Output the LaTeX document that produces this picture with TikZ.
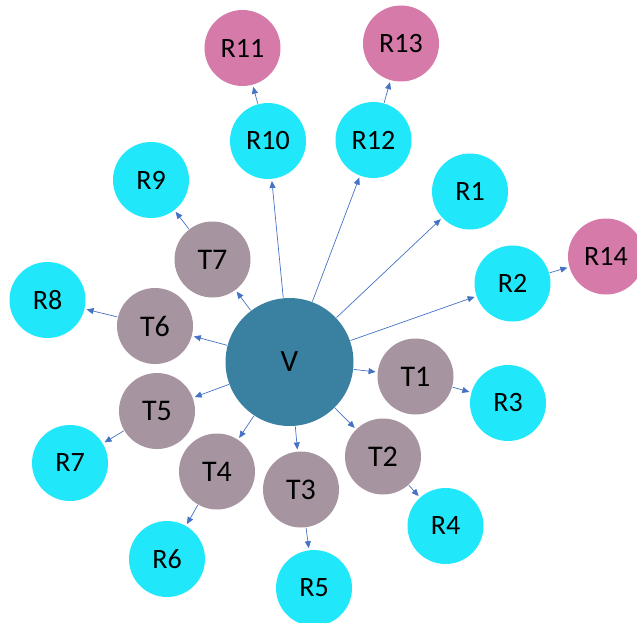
\documentclass[tikz,border=0pt]{standalone}
\usepackage{fontspec}
\setmainfont{Carlito}
\usetikzlibrary{arrows.meta}
\definecolor{rcyan}{RGB}{32,232,250}
\definecolor{rpink}{RGB}{214,122,170}
\definecolor{tgray}{RGB}{166,149,161}
\definecolor{vblue}{RGB}{58,128,160}
\definecolor{lblue}{RGB}{68,114,196}
\begin{document}
\begin{tikzpicture}[x=1pt,y=-1pt,
  base/.style={circle,inner sep=0pt,text=black},
  rnode/.style={base,fill=rcyan,minimum size=76pt,font=\fontsize{28}{30}\selectfont},
  pnode/.style={base,fill=rpink,minimum size=76pt,font=\fontsize{28}{30}\selectfont},
  tnode/.style={base,fill=tgray,minimum size=76pt,font=\fontsize{30}{32}\selectfont},
  vnode/.style={base,fill=vblue,minimum size=128pt,font=\fontsize{31}{34}\selectfont},
  conn/.style={draw=lblue,line width=0.7pt,-{Triangle[length=7pt,width=6pt]},shorten >=2pt,shorten <=0.5pt}]
\useasboundingbox (0,0) rectangle (637,623);
\begin{scope}
\clip (0,0) rectangle (637,623);
\node[vnode] (V) at (289.5,362) {V};
\node[tnode] (T1) at (415.5,376.5) {T1};
\node[tnode] (T2) at (383,456.5) {T2};
\node[tnode] (T3) at (301,489.5) {T3};
\node[tnode] (T4) at (217,471.5) {T4};
\node[tnode] (T5) at (157,411) {T5};
\node[tnode] (T6) at (155,326) {T6};
\node[tnode] (T7) at (212.5,259.5) {T7};
\node[rnode] (R1) at (470,191.5) {R1};
\node[rnode] (R2) at (512.5,283.5) {R2};
\node[rnode] (R3) at (508,403) {R3};
\node[rnode] (R4) at (445.5,526) {R4};
\node[rnode] (R5) at (314,588) {R5};
\node[rnode] (R6) at (167,559) {R6};
\node[rnode] (R7) at (70,463) {R7};
\node[rnode] (R8) at (47.5,300) {R8};
\node[rnode] (R9) at (151,180) {R9};
\node[rnode] (R10) at (268,141) {R10};
\node[pnode] (R11) at (242.5,48) {R11};
\node[rnode] (R12) at (373.5,140) {R12};
\node[pnode] (R13) at (401,43.5) {R13};
\node[pnode] (R14) at (606,256.5) {R14};
\end{scope}
\foreach \t in {T1,T2,T3,T4,T5,T6,T7,R1,R2,R10,R12}{\draw[conn] (V) -- (\t);}
\draw[conn] (T1) -- (R3);
\draw[conn] (T2) -- (R4);
\draw[conn] (T3) -- (R5);
\draw[conn] (T4) -- (R6);
\draw[conn] (T5) -- (R7);
\draw[conn] (T6) -- (R8);
\draw[conn] (T7) -- (R9);
\draw[conn] (R10) -- (R11);
\draw[conn] (R12) -- (R13);
\draw[conn] (R2) -- (R14);
\end{tikzpicture}
\end{document}
